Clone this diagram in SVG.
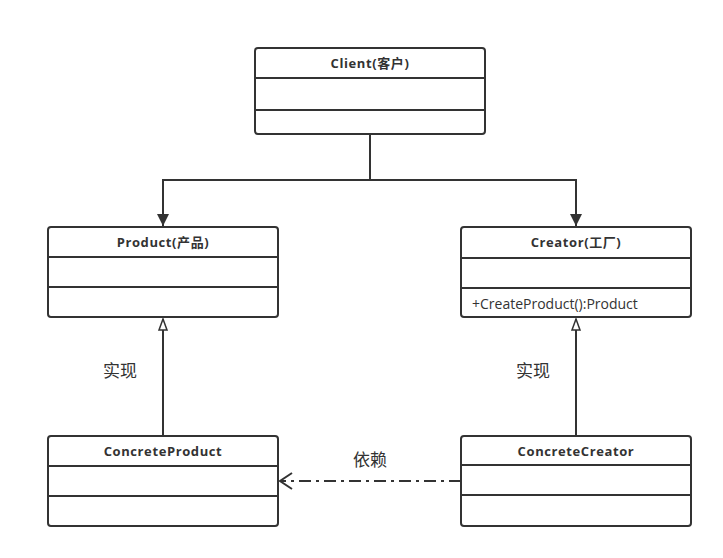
<svg xmlns="http://www.w3.org/2000/svg" width="723" height="558" viewBox="0 0 723 558">
<defs>
<style>
.box{fill:#fff;stroke:#333;stroke-width:2}
.div{stroke:#333;stroke-width:2}
.title{font-family:"Open Sans","Noto Sans CJK SC",sans-serif;font-size:13px;font-weight:bold;fill:#333;text-anchor:middle;letter-spacing:0.6px}
.member{font-family:"Open Sans","Noto Sans CJK SC",sans-serif;font-size:14px;fill:#333}
.label{font-family:"Noto Sans CJK SC",sans-serif;font-size:17px;fill:#333;text-anchor:middle}
.line{fill:none;stroke:#333;stroke-width:2}
</style>
<marker id="filled" markerWidth="12" markerHeight="16" refX="12" refY="8" orient="auto" markerUnits="userSpaceOnUse">
<path d="M0,2 L12,8 L0,14 Z" fill="#333"/>
</marker>
<marker id="hollow" markerWidth="14" markerHeight="14" refX="12" refY="7" orient="auto" markerUnits="userSpaceOnUse">
<path d="M1,3 L12,7 L1,11 Z" fill="#fff" stroke="#333" stroke-width="1.5"/>
</marker>
</defs>
<rect width="723" height="558" fill="#fff"/>
<g id="connectors">
<polyline class="line" points="370,135 370,180 163,180 163,226" marker-end="url(#filled)"/>
<polyline class="line" points="370,180 576,180 576,226" marker-end="url(#filled)"/>
<line class="line" x1="163" y1="436" x2="163" y2="319" marker-end="url(#hollow)"/>
<line class="line" x1="576" y1="436" x2="576" y2="319" marker-end="url(#hollow)"/>
<line class="line" x1="461" y1="481" x2="281" y2="481" stroke-dasharray="12,5,3,5"/>
<polyline class="line" points="292,473 280,481 292,489"/>
</g>
<g id="client">
<rect class="box" x="255" y="48" width="230" height="86" rx="3"/>
<line class="div" x1="255" y1="78" x2="485" y2="78"/>
<line class="div" x1="255" y1="110" x2="485" y2="110"/>
<text class="title" x="370" y="68">Client(客户)</text>
</g>
<g id="product">
<rect class="box" x="48" y="227" width="230" height="90" rx="3"/>
<line class="div" x1="48" y1="257" x2="278" y2="257"/>
<line class="div" x1="48" y1="287" x2="278" y2="287"/>
<text class="title" x="163" y="247">Product(产品)</text>
</g>
<g id="creator">
<rect class="box" x="461" y="227" width="230" height="90" rx="3"/>
<line class="div" x1="461" y1="258" x2="691" y2="258"/>
<line class="div" x1="461" y1="288" x2="691" y2="288"/>
<text class="title" x="576" y="247">Creator(工厂)</text>
<text class="member" x="472" y="309">+CreateProduct():Product</text>
</g>
<g id="concreteProduct">
<rect class="box" x="48" y="436" width="230" height="90" rx="3"/>
<line class="div" x1="48" y1="466" x2="278" y2="466"/>
<line class="div" x1="48" y1="496" x2="278" y2="496"/>
<text class="title" x="163" y="456">ConcreteProduct</text>
</g>
<g id="concreteCreator">
<rect class="box" x="461" y="436" width="230" height="90" rx="3"/>
<line class="div" x1="461" y1="465" x2="691" y2="465"/>
<line class="div" x1="461" y1="495" x2="691" y2="495"/>
<text class="title" x="576" y="456">ConcreteCreator</text>
</g>
<g id="labels">
<text class="label" x="120" y="377">实现</text>
<text class="label" x="533" y="377">实现</text>
<text class="label" x="370" y="466">依赖</text>
</g>
</svg>
